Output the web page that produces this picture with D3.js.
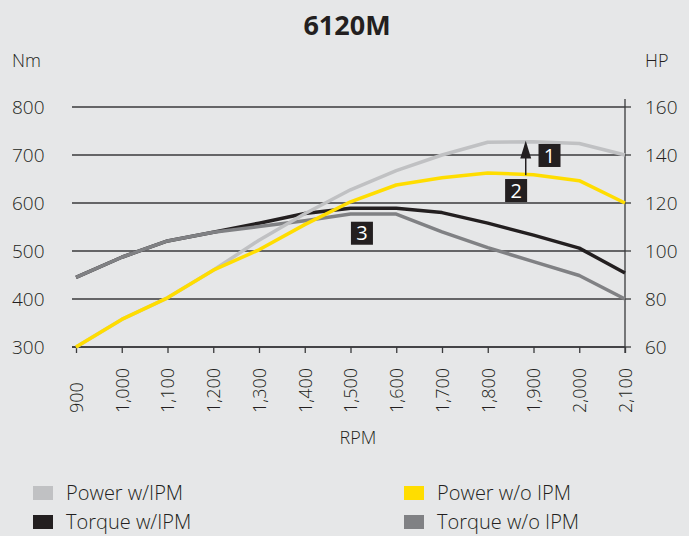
<!DOCTYPE html>
<html>
<head>
<meta charset="utf-8">
<script src="https://cdn.jsdelivr.net/npm/d3@7"></script>
<style>
  body { margin: 0; background: #e6e7e8; }
  svg { display: block; font-family: "Open Sans", sans-serif; font-weight: 300; }
</style>
</head>
<body>
<div id="chart"></div>
<script>
// data
const rpm = [900, 1000, 1100, 1200, 1300, 1400, 1500, 1600, 1700, 1800, 1900, 2000, 2100];
const powerIPM = [60, 71.5, 80.5, 92, 104.5, 115.5, 125.5, 133.5, 140, 145.3, 145.5, 144.8, 140];
const powerNoIPM = [60, 71.5, 80.5, 92, 100.5, 111, 120.5, 127.5, 130.5, 132.5, 131.8, 129.3, 120];
const torqueIPM = [445, 487, 521, 539, 558, 578, 589, 589, 580, 558, 533, 506, 454];
const torqueNoIPM = [445, 487, 521, 539, 551, 563, 577, 577, 540, 507, 478, 449, 400];
const nmTicks = [300, 400, 500, 600, 700, 800];
const hpTicks = [60, 80, 100, 120, 140, 160];

const width = 689, height = 536;
const plotLeft = 76, plotRight = 625, plotTop = 107, plotBottom = 347;

const x = d3.scaleLinear().domain([900, 2100]).range([plotLeft, plotRight]);
const yNm = d3.scaleLinear().domain([300, 800]).range([plotBottom, plotTop]);
const yHp = d3.scaleLinear().domain([60, 160]).range([plotBottom, plotTop]);

const svg = d3.select('#chart').append('svg')
  .attr('width', width)
  .attr('height', height);

svg.append('rect').attr('width', width).attr('height', height).attr('fill', '#e6e7e8');

// title
svg.append('text')
  .attr('x', 347).attr('y', 35)
  .attr('text-anchor', 'middle')
  .attr('font-size', 27).attr('font-weight', 'bold')
  .attr('fill', '#231f20')
  .text('6120M');

svg.append('text').attr('x', 12).attr('y', 67).attr('font-size', 18).attr('fill', '#231f20').text('Nm');
svg.append('text').attr('x', 645).attr('y', 67).attr('font-size', 18).attr('fill', '#231f20').text('HP');

// gridlines + left labels
nmTicks.forEach(t => {
  svg.append('line')
    .attr('x1', 72).attr('x2', plotRight)
    .attr('y1', yNm(t)).attr('y2', yNm(t))
    .attr('stroke', '#3a3a3c').attr('stroke-width', 1.3);
  svg.append('text')
    .attr('x', 12).attr('y', yNm(t))
    .attr('dy', '0.35em')
    .attr('font-size', 19).attr('fill', '#231f20')
    .text(t);
});

// right axis
const rightAxis = svg.append('g').attr('transform', `translate(${plotRight},0)`);
rightAxis.append('line')
  .attr('x1', 0).attr('x2', 0).attr('y1', 99).attr('y2', plotBottom + 6)
  .attr('stroke', '#3a3a3c').attr('stroke-width', 1.3);
hpTicks.forEach(t => {
  rightAxis.append('line')
    .attr('x1', 0).attr('x2', 6).attr('y1', yHp(t)).attr('y2', yHp(t))
    .attr('stroke', '#3a3a3c').attr('stroke-width', 1.3);
  rightAxis.append('text')
    .attr('x', 20).attr('y', yHp(t)).attr('dy', '0.35em')
    .attr('font-size', 19).attr('fill', '#231f20')
    .text(t);
});

// bottom axis
const xAxis = svg.append('g').attr('transform', `translate(0,${plotBottom})`)
  .call(d3.axisBottom(x).tickValues(rpm).tickSize(6).tickSizeOuter(0).tickFormat(d3.format(',')));
xAxis.select('.domain').remove();
xAxis.insert('line', ':first-child')
  .attr('x1', 72).attr('x2', plotRight).attr('stroke', '#3a3a3c').attr('stroke-width', 1.3);
xAxis.selectAll('.tick line').attr('stroke', '#3a3a3c').attr('stroke-width', 1.3);
xAxis.selectAll('.tick text')
  .attr('font-family', '"Open Sans", sans-serif')
  .attr('font-weight', 300)
  .attr('font-size', 18).attr('fill', '#231f20')
  .attr('text-anchor', 'start')
  .attr('transform', 'rotate(-90)')
  .attr('x', -66).attr('y', 0).attr('dy', '0.35em');

svg.append('text')
  .attr('x', 358).attr('y', 444)
  .attr('text-anchor', 'middle')
  .attr('font-size', 18).attr('fill', '#231f20')
  .text('RPM');

// lines
const series = [
  { name: 'Torque w/IPM', values: torqueIPM, y: yNm, color: '#231f20' },
  { name: 'Torque w/o IPM', values: torqueNoIPM, y: yNm, color: '#808184' },
  { name: 'Power w/IPM', values: powerIPM, y: yHp, color: '#c0c1c3' },
  { name: 'Power w/o IPM', values: powerNoIPM, y: yHp, color: '#ffdd00' }
];

series.forEach(s => {
  const line = d3.line().x((d, i) => x(rpm[i])).y(d => s.y(d));
  svg.append('path')
    .datum(s.values)
    .attr('d', line)
    .attr('fill', 'none')
    .attr('stroke', s.color)
    .attr('stroke-width', 3.5)
    .attr('stroke-linejoin', 'round');
});

// annotations
const arrowRpm = 1883;
const ax = x(arrowRpm);
svg.append('line')
  .attr('x1', ax).attr('x2', ax)
  .attr('y1', yHp(131.6)).attr('y2', yHp(140))
  .attr('stroke', '#231f20').attr('stroke-width', 1.5);
svg.append('path')
  .attr('d', `M${ax},${yHp(145.5) - 1} L${ax - 5.5},${yHp(138.5)} L${ax + 5.5},${yHp(138.5)} Z`)
  .attr('fill', '#231f20');

const labels = [
  { n: '1', rpm: 1935, hp: 139.8 },
  { n: '2', rpm: 1862, hp: 125.2 },
  { n: '3', rpm: 1525, y: 'nm', v: 537 }
];
labels.forEach(l => {
  const cx = x(l.rpm);
  const cy = l.y === 'nm' ? yNm(l.v) : yHp(l.hp);
  svg.append('rect')
    .attr('x', cx - 11).attr('y', cy - 11.5)
    .attr('width', 22).attr('height', 23)
    .attr('fill', '#231f20');
  svg.append('text')
    .attr('x', cx).attr('y', cy).attr('dy', '0.36em')
    .attr('text-anchor', 'middle')
    .attr('font-size', 20).attr('font-weight', 400).attr('fill', '#ffffff')
    .text(l.n);
});

// legend
const legendItems = [
  { name: 'Power w/IPM', color: '#c0c1c3', lx: 33, ly: 493 },
  { name: 'Power w/o IPM', color: '#ffdd00', lx: 404, ly: 493 },
  { name: 'Torque w/IPM', color: '#231f20', lx: 33, ly: 522 },
  { name: 'Torque w/o IPM', color: '#808184', lx: 404, ly: 522 }
];
legendItems.forEach(d => {
  svg.append('rect')
    .attr('x', d.lx).attr('y', d.ly - 7)
    .attr('width', 20).attr('height', 14)
    .attr('fill', d.color);
  svg.append('text')
    .attr('x', d.lx + 33).attr('y', d.ly).attr('dy', '0.35em')
    .attr('font-size', 20).attr('fill', '#231f20')
    .text(d.name);
});
</script>
</body>
</html>
